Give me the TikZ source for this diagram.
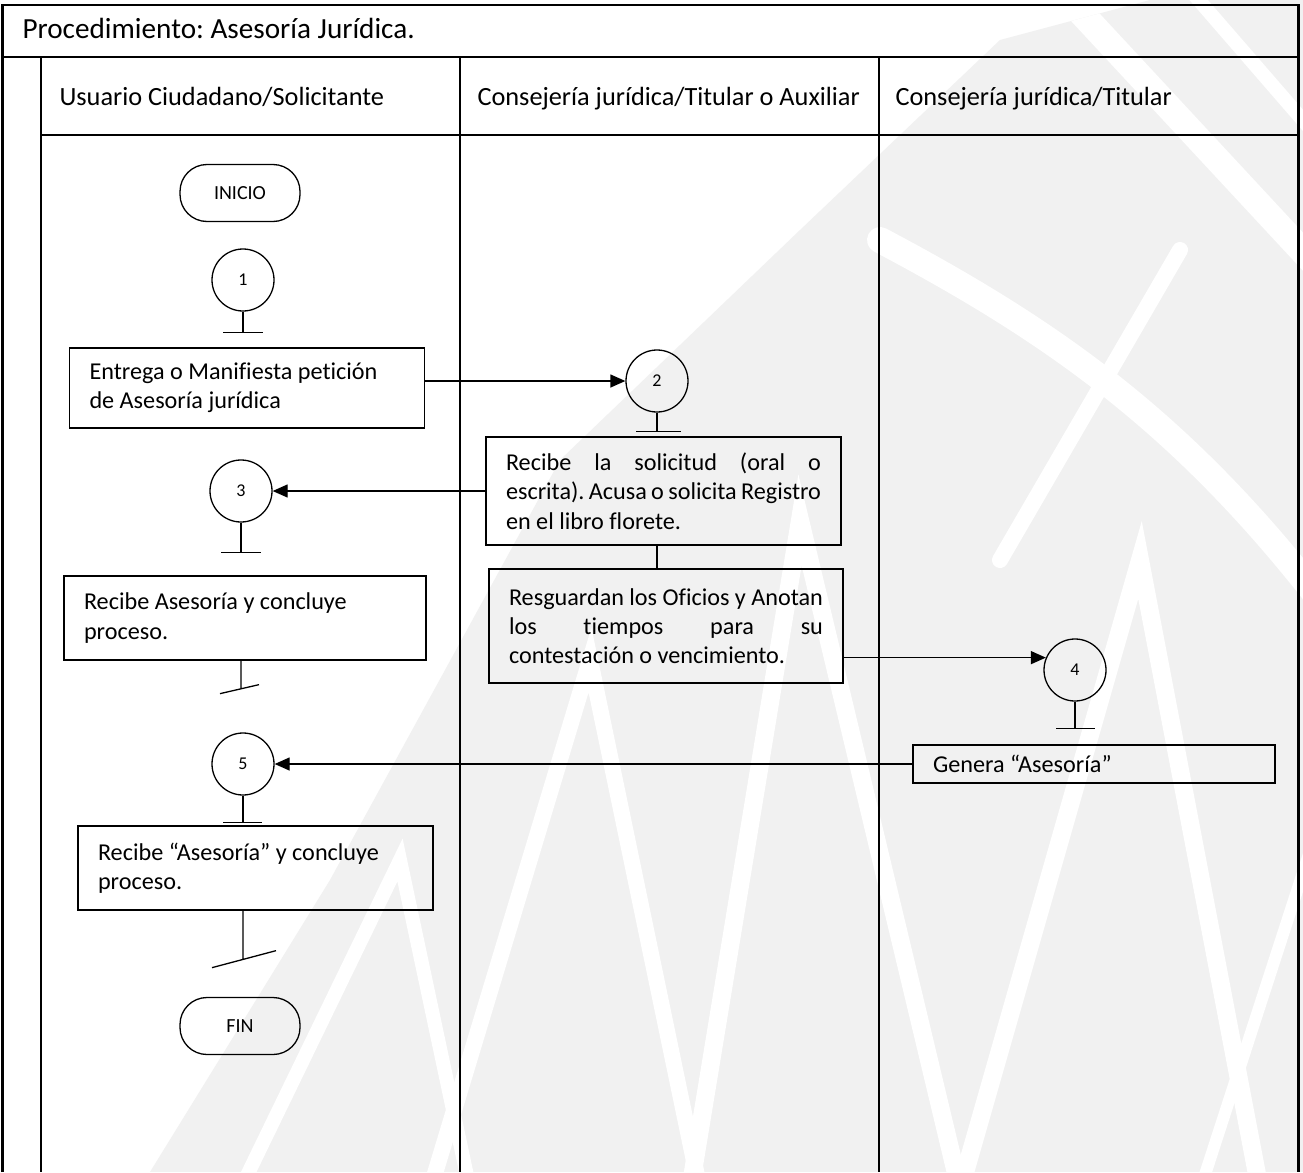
\documentclass[tikz,border=0pt]{standalone}
\usepackage{fontspec}
\setmainfont{Carlito}[Ligatures=NoCommon]
\usetikzlibrary{arrows.meta,calc}
\frenchspacing
\definecolor{wm}{RGB}{241,241,241}
\begin{document}
\begin{tikzpicture}[x=1pt,y=-1pt,
  frame/.style={line width=2.6pt},
  shp/.style={draw,line width=1.3pt},
  proc/.style={shp,rectangle,inner xsep=20pt,inner ysep=0pt,
     execute at begin node={\raggedright\spaceskip=0pt\xspaceskip=0pt},
     font=\fontsize{24.2}{29.3}\selectfont},
  conn/.style={shp,circle,minimum size=62pt,inner sep=0pt,font=\fontsize{18}{20}\selectfont},
  term/.style={shp,rectangle,rounded corners=27pt,minimum width=120pt,minimum height=57pt,inner sep=0pt,font=\fontsize{20}{22}\selectfont},
  lanehead/.style={anchor=base west,font=\fontsize{26.3}{30}\selectfont},
  flow/.style={line width=1.3pt},
  arr/.style={flow,-{Triangle[length=15pt,width=13pt]}},
  stripe/.style={white,line width=26pt,line cap=round},
]
\useasboundingbox (0,0) rectangle (1303,1172);
\fill[white] (0,0) rectangle (1303,1172);
% faint watermark
\begin{scope}
\clip (150,1172) -- (330,880) -- (560,460) -- (800,230) -- (1000,40) -- (1150,0) -- (1303,0) -- (1303,1172) -- cycle;
\fill[wm] (0,0) rectangle (1303,1172);
\draw[stripe] (1060,-10) -- (1320,270);
\draw[stripe,line width=14pt] (1190,-10) -- (1320,140);
\draw[stripe] (880,240) .. controls (1050,330) and (1180,420) .. (1320,600);
\draw[stripe,line width=18pt] (690,1190) -- (800,520) -- (960,1190);
\draw[stripe,line width=18pt] (960,1190) -- (1140,560) -- (1260,1190);
\draw[stripe,line width=16pt] (430,1190) -- (590,660) -- (700,1190);
\draw[stripe,line width=14pt] (240,1190) -- (400,860) -- (470,1190);
\draw[stripe,line width=16pt] (1000,560) -- (1180,250);
\draw[stripe,line width=12pt] (1200,1190) -- (1320,820);
\end{scope}
% table frame
\draw[frame] (2.5,1172) -- (2.5,5) -- (1298.5,5) -- (1298.5,1172);
\draw[frame] (2.5,57) -- (1298.5,57);
\draw[frame] (41,135) -- (1298.5,135);
\draw[frame] (41,57) -- (41,1172);
\draw[frame] (460,57) -- (460,1172);
\draw[frame] (879,57) -- (879,1172);
\node[anchor=base west,font=\fontsize{29.2}{32}\selectfont] (title) at (19,38) {Procedimiento: Asesoría Jurídica.};
\node[lanehead] (h1) at (56,105) {Usuario Ciudadano/Solicitante};
\node[lanehead] (h2) at (474,105) {Consejería jurídica/Titular o Auxiliar};
\node[lanehead] (h3) at (892,105) {Consejería jurídica/Titular};
% shapes
\node[term] (ini) at (240,193) {INICIO};
\node[conn] (c1) at (243,280) {1};
\node[proc,text width=315pt,minimum height=80pt] (b1) at (247,388) {Entrega o Manifiesta petición\\de Asesoría jurídica};
\node[conn] (c2) at (657,381) {2};
\node[proc,text width=315pt,minimum height=108pt] (b2) at (663.5,491) {\makebox[315pt][l]{Recibe\hfill la\hfill solicitud\hfill (oral\hfill o}\\\makebox[315pt][l]{escrita).\hfill Acusa\hfill o\hfill solicita\hfill Registro}\\en el libro florete.};
\node[proc,text width=314pt,minimum height=114pt] (b3) at (666,626) {\makebox[314pt][l]{Resguardan\hfill los\hfill Oficios\hfill y\hfill Anotan}\\\makebox[314pt][l]{los\hfill tiempos\hfill para\hfill su}\\contestación o vencimiento.};
\node[conn] (c3) at (241,491) {3};
\node[proc,text width=322pt,minimum height=84pt] (b4) at (245,618) {Recibe Asesoría y concluye\\proceso.};
\node[conn] (c4) at (1075,670) {4};
\node[proc,text width=322pt,minimum height=38pt] (b6) at (1094,764) {Genera “Asesoría”};
\node[conn] (c5) at (243,764) {5};
\node[proc,text width=315pt,minimum height=84pt] (b5) at (255.5,868) {Recibe “Asesoría” y concluye\\proceso.};
\node[term] (fin) at (240,1026) {FIN};
% stems with crossbars
\coordinate (s1) at ($(c1.south)+(0,21)$);
\draw[flow] (c1.south) -- (s1) ($(s1)+(-20,0)$) -- ($(s1)+(20,0)$);
\coordinate (s2) at ($(c2.south)+(0,19)$);
\draw[flow] (c2.south) -- (s2) ($(s2)+(-21,0)$) -- ($(s2)+(24,0)$);
\coordinate (s3) at ($(c3.south)+(0,30)$);
\draw[flow] (c3.south) -- (s3) ($(s3)+(-20,0)$) -- ($(s3)+(20,0)$);
\coordinate (s4) at ($(c4.south)+(0,27)$);
\draw[flow] (c4.south) -- (s4) ($(s4)+(-19,0)$) -- ($(s4)+(20,0)$);
\coordinate (s5) at ($(c5.south)+(0,27)$);
\draw[flow] (c5.south) -- (s5) ($(s5)+(-20,0)$) -- ($(s5)+(19,0)$);
% box to box
\draw[flow] (b2.south -| c2) -- (b3.north -| c2);
% open ends after boxes
\coordinate (e4) at ($(b4.south -| c3)+(0,28)$);
\draw[flow] (b4.south -| c3) -- (e4) ($(e4)+(-21,5)$) -- ($(e4)+(18,-4)$);
\coordinate (e5) at ($(b5.south -| c5)+(0,49)$);
\draw[flow] (b5.south -| c5) -- (e5) ($(e5)+(-31,8)$) -- ($(e5)+(33,-9)$);
% arrows
\draw[arr] (b1.east |- c2.west) -- (c2.west);
\draw[arr] (b2.west) -- (c3.east);
\draw[arr] (b3.east |- c4.157) -- (c4.157);
\draw[arr] (b6.west) -- (c5.east);
\end{tikzpicture}
\end{document}
